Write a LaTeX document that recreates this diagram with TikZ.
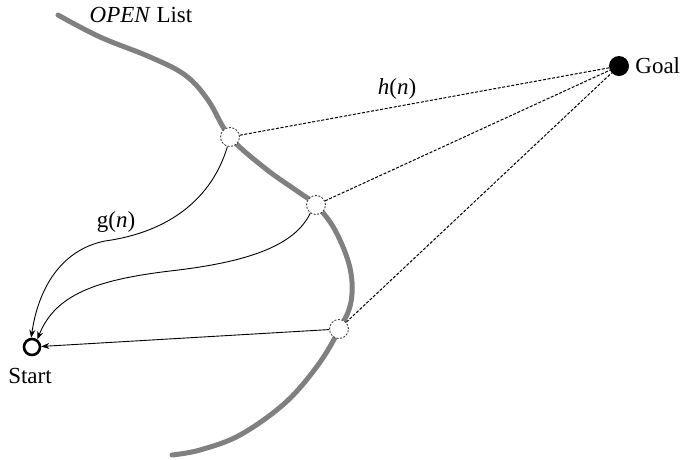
\documentclass[tikz,border=0pt]{standalone}
\usepackage{fontspec}
\setmainfont{Liberation Serif}
\usetikzlibrary{arrows.meta}

\begin{document}
\begin{tikzpicture}[x=1pt,y=-1pt,
  openpt/.style={circle,draw=black!75,fill=white,dash pattern=on 2pt off 1.5pt,line width=0.9pt,minimum size=19pt,inner sep=0pt},
  hline/.style={dash pattern=on 3pt off 1.6pt,line width=1pt},
  garrow/.style={line width=0.9pt,-{Stealth[length=8pt,width=6pt]}},
  lbl/.style={font=\fontsize{23}{26}\selectfont,inner sep=1pt}]
\useasboundingbox (0,0) rectangle (686,459);
% the OPEN list
\draw[line width=5pt,black!50,line cap=round] plot[smooth,tension=0.6] coordinates {(58,15) (100,37) (150,57) (185,75) (208,100) (230,137) (266,169) (300,193) (316,205) (335,230) (350,268) (351,302) (339,330) (318,365) (285,403) (240,435) (200,450) (172,455)};
\node[lbl] (openlbl) at (141,15) {\textit{OPEN} List};
\node[openpt] (n1) at (230,137) {};
\node[openpt] (n2) at (316,205) {};
\node[openpt] (n3) at (339,329) {};
\node[circle,fill=black,minimum size=20pt,inner sep=0pt] (goal) at (619,66) {};
\node[lbl,anchor=west,xshift=5pt] (goallbl) at (goal.east) {Goal};
\node[circle,draw=black,line width=2.6pt,minimum size=16pt,inner sep=0pt] (start) at (32,347) {};
\node[lbl] (startlbl) at (30,376) {Start};
% estimates to the goal
\draw[hline] (n1) -- (goal);
\draw[hline] (n2) -- (goal);
\draw[hline] (n3) -- (goal);
\node[lbl] (hlbl) at (397,89) {\textit{h}(\textit{n})};
% paths back to the start
\draw[garrow] (n1.255) .. controls (212,198) and (170,232) .. (105,241) .. controls (60,250) and (38,290) .. (start.95);
\draw[garrow] (n2.235) .. controls (295,245) and (250,262) .. (170,271) .. controls (95,280) and (55,295) .. (start.55);
\draw[garrow] (n3) -- (start);
\node[lbl] (glbl) at (116,222) {g(\textit{n})};
\end{tikzpicture}
\end{document}
